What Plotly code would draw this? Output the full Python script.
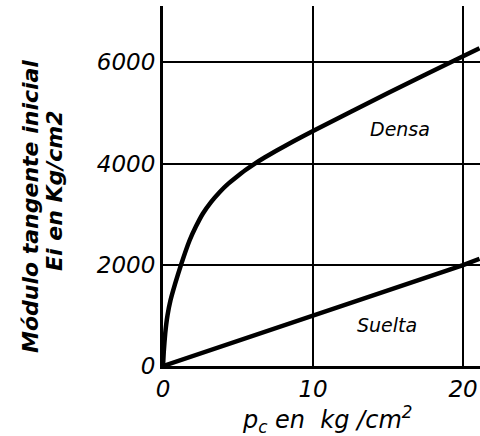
import plotly.graph_objects as go

# Initial tangent modulus Ei (kg/cm2) versus confining pressure pc (kg/cm2)
densa_pc = [0, 0.05, 0.15, 0.3, 0.5, 0.8, 1.2, 1.77, 2.2, 2.65, 3.2, 3.77, 4.3, 4.88, 5.5, 6.1, 6.8, 7.55, 8.7, 10.0, 15.0, 20.0, 21.1]
densa_ei = [0, 280, 650, 1000, 1300, 1620, 2000, 2480, 2760, 3010, 3240, 3435, 3590, 3730, 3873, 3996, 4126, 4255, 4442, 4646, 5396, 6121, 6280]

suelta_pc = [0, 10.0, 20.0, 21.1]
suelta_ei = [0, 990, 1995, 2120]

x_ticks = [0, 10, 20]
y_ticks = [0, 2000, 4000, 6000]

FONT = "DejaVu Sans"
INK = "black"

fig = go.Figure()
fig.add_trace(go.Scatter(x=densa_pc, y=densa_ei, mode="lines",
                         line=dict(color=INK, width=4.5, shape="spline", smoothing=0.4),
                         name="Densa", showlegend=False))
fig.add_trace(go.Scatter(x=suelta_pc, y=suelta_ei, mode="lines",
                         line=dict(color=INK, width=4.5),
                         name="Suelta", showlegend=False))

fig.update_layout(
    width=480, height=436,
    margin=dict(l=163, r=0, t=6, b=70),
    paper_bgcolor="white", plot_bgcolor="white",
    font=dict(family=FONT, color=INK),
    xaxis=dict(range=[0, 21.13], tickvals=x_ticks, ticks="",
               showgrid=True, gridcolor=INK, gridwidth=1.5, zeroline=False,
               showline=True, linecolor=INK, linewidth=3,
               tickfont=dict(family=FONT, size=23, style="italic", color=INK),
               ticklabelstandoff=0),
    yaxis=dict(range=[0, 7115], tickvals=y_ticks, ticks="",
               showgrid=True, gridcolor=INK, gridwidth=1.5, zeroline=False,
               showline=True, linecolor=INK, linewidth=3,
               tickfont=dict(family=FONT, size=23, style="italic", color=INK),
               ticklabelstandoff=0),
)

# Curve labels
fig.add_annotation(x=15.8, y=4690, text="Densa", showarrow=False,
                   font=dict(family=FONT, size=19, style="italic", color=INK))
fig.add_annotation(x=14.9, y=820, text="Suelta", showarrow=False,
                   font=dict(family=FONT, size=19, style="italic", color=INK))

# Axis titles
fig.add_annotation(xref="paper", yref="paper", x=0.517, y=-0.15,
                   xanchor="center", yanchor="middle", showarrow=False,
                   text="p<sub>c</sub> en  kg /cm<sup>2</sup>",
                   font=dict(family=FONT, size=24, style="italic", color=INK))

title_font = dict(family=FONT, size=22, style="italic", weight="bold", color=INK)
fig.add_annotation(xref="paper", yref="paper", x=(30 - 163) / 317, y=(366 - 207) / 360,
                   xanchor="center", yanchor="middle", showarrow=False,
                   textangle=-90, text="Módulo tangente inicial", font=title_font)
fig.add_annotation(xref="paper", yref="paper", x=(54 - 163) / 317, y=(366 - 190) / 360,
                   xanchor="center", yanchor="middle", showarrow=False,
                   textangle=-90, text="Ei en Kg/cm2", font=title_font)

fig.write_html("out.html")
